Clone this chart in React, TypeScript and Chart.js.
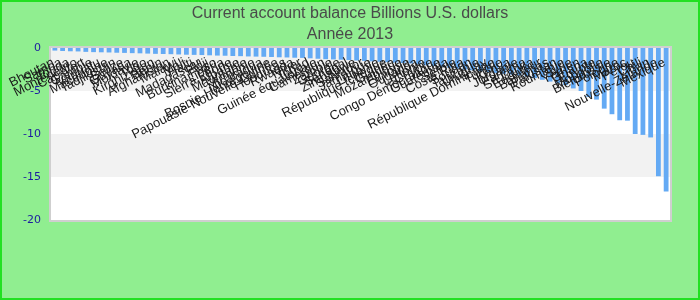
import React, { useEffect, useRef } from "react";
import { Chart, registerables } from "chart.js";

Chart.register(...registerables);

const titleLines = ["Current account balance Billions U.S. dollars", "Année 2013"];

const countries = [
  "Bhoutan", "Samoa", "Tonga", "Monténégro", "Cap-Vert", "Gambie", "Vanuatu", "Macédoine", "Tadjikistan", "Belize",
  "Guyana", "Moldavie", "Togo", "Kirghizistan", "Bénin", "Afghanistan", "Malawi", "Mali", "Haïti", "Madagascar",
  "Fidji", "Burkina Faso", "Libéria", "Sierra Leone", "Albanie", "Mauritanie", "Arménie", "Nicaragua", "Bosnie-Herzégovine", "Papouasie-Nouvelle-Guinée",
  "Honduras", "Rwanda", "Niger", "Tchad", "Guinée équatoriale", "Cameroun", "Zambie", "Géorgie", "Sénégal", "Zimbabwe",
  "Salvador", "Jamaïque", "Lituanie", "République tchèque", "Guinée", "Mozambique", "Éthiopie", "Ouganda", "Lettonie", "Chypre",
  "Congo Démocratique", "Guatemala", "Serbie", "Costa Rica", "Soudan", "Tanzanie", "Uruguay", "République Dominicaine", "Tunisie", "Kenya",
  "Jordanie", "Panama", "Sri Lanka", "Équateur", "Bahamas", "Pakistan", "Roumanie", "Syrie", "Yémen", "Ghana",
  "Égypte", "Mongolie", "Biélorussie", "Pologne", "Maroc", "Pérou", "Chili", "Liban", "Nouvelle-Zélande", "Mexique",
];

const balances = [
  -0.3, -0.35, -0.38, -0.4, -0.45, -0.48, -0.5, -0.52, -0.55, -0.57,
  -0.6, -0.62, -0.65, -0.68, -0.7, -0.72, -0.75, -0.78, -0.8, -0.82,
  -0.85, -0.88, -0.9, -0.93, -0.95, -0.98, -1.0, -1.02, -1.05, -1.08,
  -1.1, -1.13, -1.15, -1.2, -1.25, -1.3, -1.33, -1.36, -1.4, -1.45,
  -1.5, -1.55, -1.6, -1.65, -1.7, -1.75, -1.8, -1.9, -2.0, -2.1,
  -2.2, -2.3, -2.4, -2.5, -2.6, -2.7, -2.8, -2.9, -3.0, -3.1,
  -3.2, -3.3, -3.5, -3.7, -3.9, -4.1, -4.3, -4.7, -5.0, -5.7,
  -6.0, -7.05, -7.7, -8.4, -8.45, -10.0, -10.1, -10.4, -14.9, -16.7,
];

const yTicks = [0, -5, -10, -15, -20];

export default function App() {
  const ref = useRef<HTMLCanvasElement | null>(null);

  useEffect(() => {
    const canvas = ref.current;
    if (!canvas) return;

    const decor = {
      id: "decor",
      beforeDraw(chart: any) {
        const { ctx, width, height } = chart;
        ctx.save();
        ctx.fillStyle = "#90EE90";
        ctx.fillRect(0, 0, width, height);
        ctx.strokeStyle = "#22e022";
        ctx.lineWidth = 2;
        ctx.strokeRect(1, 1, width - 2, height - 2);
        ctx.fillStyle = "#4a4a4a";
        ctx.font = '16px "Liberation Sans Narrow", "Liberation Sans", sans-serif';
        ctx.textAlign = "center";
        ctx.textBaseline = "alphabetic";
        ctx.fillText(titleLines[0], width / 2, 18);
        ctx.fillText(titleLines[1], width / 2, 39);
        ctx.restore();
      },
      beforeDatasetsDraw(chart: any) {
        const { ctx, chartArea } = chart;
        const y = chart.scales.y;
        ctx.save();
        for (let i = 0; i < yTicks.length - 1; i++) {
          const top = y.getPixelForValue(yTicks[i]);
          const bot = y.getPixelForValue(yTicks[i + 1]);
          ctx.fillStyle = i % 2 === 0 ? "#f2f2f2" : "#ffffff";
          ctx.fillRect(chartArea.left, top, chartArea.right - chartArea.left, bot - top);
        }
        ctx.strokeStyle = "#cfcfcf";
        ctx.lineWidth = 2;
        ctx.strokeRect(chartArea.left - 1, chartArea.top - 1, chartArea.right - chartArea.left + 2, chartArea.bottom - chartArea.top + 2);
        ctx.restore();
      },
      afterDatasetsDraw(chart: any) {
        const { ctx } = chart;
        const x = chart.scales.x;
        ctx.save();
        ctx.fillStyle = "#1a1a1a";
        ctx.font = '13px "Liberation Sans", Arial, sans-serif';
        ctx.textAlign = "right";
        ctx.textBaseline = "alphabetic";
        countries.forEach((name, i) => {
          const px = x.getPixelForValue(i);
          ctx.save();
          ctx.translate(px, 65);
          ctx.rotate((-27 * Math.PI) / 180);
          ctx.fillText(name, 0, 0);
          ctx.restore();
        });
        ctx.restore();
      },
    };

    const chart = new Chart(canvas, {
      type: "bar",
      data: {
        labels: countries,
        datasets: [
          {
            data: balances,
            backgroundColor: "#64aaf4",
            borderWidth: 0,
            barPercentage: 0.62,
            categoryPercentage: 1,
          },
        ],
      },
      options: {
        responsive: false,
        animation: false,
        devicePixelRatio: 1,
        layout: { padding: { top: 48, right: 30, bottom: 80, left: 0 } },
        plugins: { legend: { display: false }, title: { display: false }, tooltip: { enabled: false } },
        scales: {
          x: { display: false, offset: true },
          y: {
            min: -20,
            max: 0,
            afterFit(scale: any) {
              scale.width = 51;
            },
            ticks: {
              stepSize: 5,
              color: "#1c1ca0",
              padding: 10,
              font: { family: '"DejaVu Sans", sans-serif', size: 11 },
            },
            grid: { display: false, drawTicks: false },
            border: { display: false },
          },
        },
      },
      plugins: [decor],
    });

    return () => chart.destroy();
  }, []);

  return (
    <div style={{ position: "fixed", left: 0, top: 0, width: 700, height: 300 }}>
      <canvas ref={ref} width={700} height={300} />
    </div>
  );
}
